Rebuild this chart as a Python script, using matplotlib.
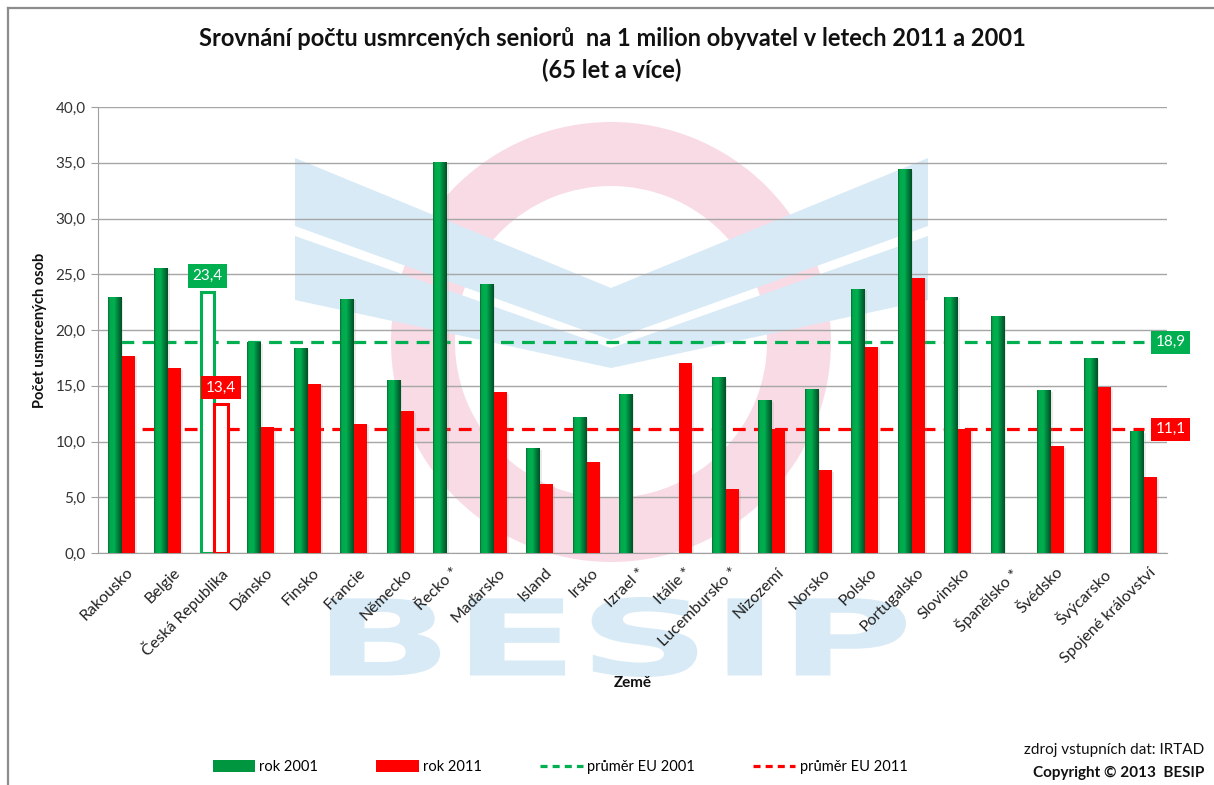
import numpy as np
import matplotlib
matplotlib.use("Agg")
import matplotlib.pyplot as plt
from matplotlib.patches import Polygon, Wedge, PathPatch, Patch
from matplotlib.textpath import TextPath
from matplotlib.font_manager import FontProperties
from matplotlib.transforms import Affine2D, ScaledTranslation
from matplotlib.lines import Line2D
from matplotlib.colors import LinearSegmentedColormap

plt.rcParams['font.family'] = ['Lato', 'DejaVu Sans']

nan = np.nan
countries = ["Rakousko", "Belgie", "Česká Republika", "Dánsko", "Finsko", "Francie",
             "Německo", "Řecko *", "Maďarsko", "Island", "Irsko", "Izrael *",
             "Itálie *", "Lucembursko *", "Nizozemí", "Norsko", "Polsko",
             "Portugalsko", "Slovinsko", "Španělsko *", "Švédsko", "Švýcarsko",
             "Spojené království"]
rok_2001 = [23.0, 25.6, 23.4, 18.9, 18.4, 22.8, 15.5, 35.1, 24.1, 9.4, 12.2, 14.3,
            nan, 15.8, 13.7, 14.7, 23.7, 34.4, 23.0, 21.3, 14.6, 17.5, 10.9]
rok_2011 = [17.7, 16.6, 13.4, 11.3, 15.2, 11.6, 12.7, nan, 14.4, 6.2, 8.2, nan,
            17.0, 5.7, 11.1, 7.4, 18.5, 24.7, 11.1, nan, 9.6, 14.9, 6.8]
prumer_2001 = 18.9
prumer_2011 = 11.1
cz = 2  # highlighted country

GREEN = "#00b050"
RED = "#ff0000"


def fmt(v):
    return f"{v:.1f}".replace(".", ",")


W, H = 1214, 785
fig = plt.figure(figsize=(W / 100, H / 100), dpi=100)

# background layer in pixel coordinates (frame + BESIP watermark)
bg = fig.add_axes([0, 0, 1, 1], zorder=0)
bg.set_xlim(0, W)
bg.set_ylim(H, 0)
bg.axis("off")
bg.plot([8, W], [8, 8], color="#8c8c8c", lw=1.6)
bg.plot([8, 8], [8, H], color="#8c8c8c", lw=1.6)

wm_blue = "#d7eaf6"
wm_pink = "#f9dbe6"
bg.add_patch(Wedge((611, 342), 220, 0, 360, width=64, color=wm_pink, lw=0))
bg.add_patch(Polygon([(295, 158), (611, 288), (928, 158), (928, 226),
                      (611, 340), (295, 226)], closed=True, color=wm_blue, lw=0))
bg.add_patch(Polygon([(295, 236), (611, 348), (928, 236), (928, 300),
                      (611, 368), (295, 300)], closed=True, color=wm_blue, lw=0))
tp = TextPath((0, 0), "BESIP", size=1, prop=FontProperties(family="DejaVu Sans", weight="bold"))
ext = tp.get_extents()
tr = (Affine2D().translate(-ext.x0, -ext.y0)
      .scale(576 / ext.width, -80 / ext.height).translate(330, 677))
bg.add_patch(PathPatch(tr.transform_path(tp), color=wm_blue, lw=0))

# main chart
ax = fig.add_axes([98 / W, 1 - 553 / H, (1167 - 98) / W, (553 - 107) / H], zorder=1)
ax.patch.set_alpha(0)

x = np.arange(len(countries))
w = 0.29

ax.set_xlim(-0.5, len(countries) - 0.5)
ax.set_ylim(0, 40)
ax.set_yticks(np.arange(0, 41, 5))
ax.set_yticklabels([fmt(v) for v in np.arange(0, 41, 5)])
ax.yaxis.grid(True, color="#a6a6a6", lw=1)
ax.set_axisbelow(True)
for s in ["top", "right"]:
    ax.spines[s].set_visible(False)
for s in ["left", "bottom"]:
    ax.spines[s].set_color("#a0a0a0")
ax.tick_params(axis="y", length=5, color="#a0a0a0", labelsize=11, labelcolor="#333333", pad=4)
ax.tick_params(axis="x", length=0, labelsize=11.5, labelcolor="#222222", pad=9)
ax.set_xticks(x)
ax.set_xticklabels(countries, rotation=45, ha="right", rotation_mode="anchor")
shift = ScaledTranslation(5 / 100, 0, fig.dpi_scale_trans)
for lab in ax.get_xticklabels():
    lab.set_transform(lab.get_transform() + shift)

# EU averages (behind bars)
ax.plot([x[0], x[-1]], [prumer_2001, prumer_2001], color=GREEN, lw=2.3,
        ls=(0, (4, 2.6)), zorder=1.5)
ax.plot([x[0], x[-1]], [prumer_2011, prumer_2011], color=RED, lw=2.3,
        ls=(0, (4, 2.6)), zorder=1.5)

g = np.array(rok_2001, dtype=float)
r = np.array(rok_2011, dtype=float)

# soft shadows
sh = 2.0 / 46.5
ax.bar(x - w / 2 + sh, np.nan_to_num(g) - 0.15, w, color="#9a9a9a", alpha=0.2, zorder=2)
ax.bar(x + w / 2 + sh, np.nan_to_num(r) - 0.15, w, color="#9a9a9a", alpha=0.2, zorder=2)

green_bars = ax.bar(x - w / 2, np.nan_to_num(g), w, color="none", lw=0, zorder=3)
red_bars = ax.bar(x + w / 2, np.nan_to_num(r), w, color=RED, lw=0, zorder=3)

green_cmap = LinearSegmentedColormap.from_list(
    "gbar", [(0, "#0a6a34"), (0.12, "#00a84b"), (0.45, "#00b050"),
             (0.75, "#00793a"), (1, "#004f24")])
grad = np.linspace(0, 1, 64).reshape(1, -1)
for i, b in enumerate(green_bars):
    if np.isnan(g[i]) or i == cz:
        continue
    x0 = b.get_x()
    im = ax.imshow(grad, cmap=green_cmap, extent=[x0, x0 + b.get_width(), 0, g[i]],
                   aspect="auto", zorder=3, interpolation="bilinear")
    im.set_clip_path(b)
ax.set_xlim(-0.5, len(countries) - 0.5)
ax.set_ylim(0, 40)

# highlighted Czech Republic: hollow bars
for b, c in [(green_bars[cz], GREEN), (red_bars[cz], RED)]:
    b.set_facecolor("white")
    b.set_edgecolor(c)
    b.set_linewidth(2.2)
    b.set_zorder(4)

box = dict(boxstyle="square,pad=0.3", ec="none")
ax.text(x[cz] - w / 2, g[cz] + 1.45, fmt(g[cz]), color="white", ha="center", va="center",
        fontsize=11, bbox=dict(box, fc=GREEN), zorder=5)
ax.text(x[cz] + w / 2, r[cz] + 1.45, fmt(r[cz]), color="white", ha="center", va="center",
        fontsize=11, bbox=dict(box, fc=RED), zorder=5)
ax.text(22.58, prumer_2001, fmt(prumer_2001), color="white", ha="center", va="center",
        fontsize=11, bbox=dict(box, fc=GREEN), zorder=5, clip_on=False)
ax.text(22.58, prumer_2011, fmt(prumer_2011), color="white", ha="center", va="center",
        fontsize=11, bbox=dict(box, fc=RED), zorder=5, clip_on=False)

# titles and axis labels
fig.text(612 / W, 1 - 38 / H,
         "Srovnání počtu usmrcených seniorů  na 1 milion obyvatel v letech 2011 a 2001",
         ha="center", va="center", fontsize=17, fontweight="bold", color="#111111")
fig.text(612 / W, 1 - 70 / H, "(65 let a více)", ha="center", va="center",
         fontsize=17, fontweight="bold", color="#111111")
fig.text(40 / W, 1 - 330 / H, "Počet usmrcených osob", rotation=90, ha="center",
         va="center", fontsize=10.5, fontweight="bold", color="#111111")
fig.text(633 / W, 1 - 683 / H, "Země", ha="center", va="center", fontsize=11,
         fontweight="bold", color="#111111")

# legend
handles = [Patch(facecolor="#00963f", edgecolor="none"),
           Patch(facecolor=RED, edgecolor="none"),
           Line2D([], [], color=GREEN, lw=2.3, ls=(0, (2.2, 1.6))),
           Line2D([], [], color=RED, lw=2.3, ls=(0, (2.2, 1.6)))]
labels = ["rok 2001", "rok 2011", "průměr EU 2001", "průměr EU 2011"]
fig.legend(handles, labels, loc="center", bbox_to_anchor=(560 / W, 1 - 767 / H), ncol=4,
           frameon=False, fontsize=10.5, handlelength=2.9, handleheight=0.8,
           handletextpad=0.3, columnspacing=4.0)

fig.text(1204 / W, 1 - 750 / H, "zdroj vstupních dat: IRTAD", ha="right", va="center",
         fontsize=11, color="#111111")
fig.text(1204 / W, 1 - 773 / H, "Copyright © 2013  BESIP", ha="right", va="center",
         fontsize=11, fontweight="bold", color="#111111")

fig.savefig("out.png", dpi=100)
